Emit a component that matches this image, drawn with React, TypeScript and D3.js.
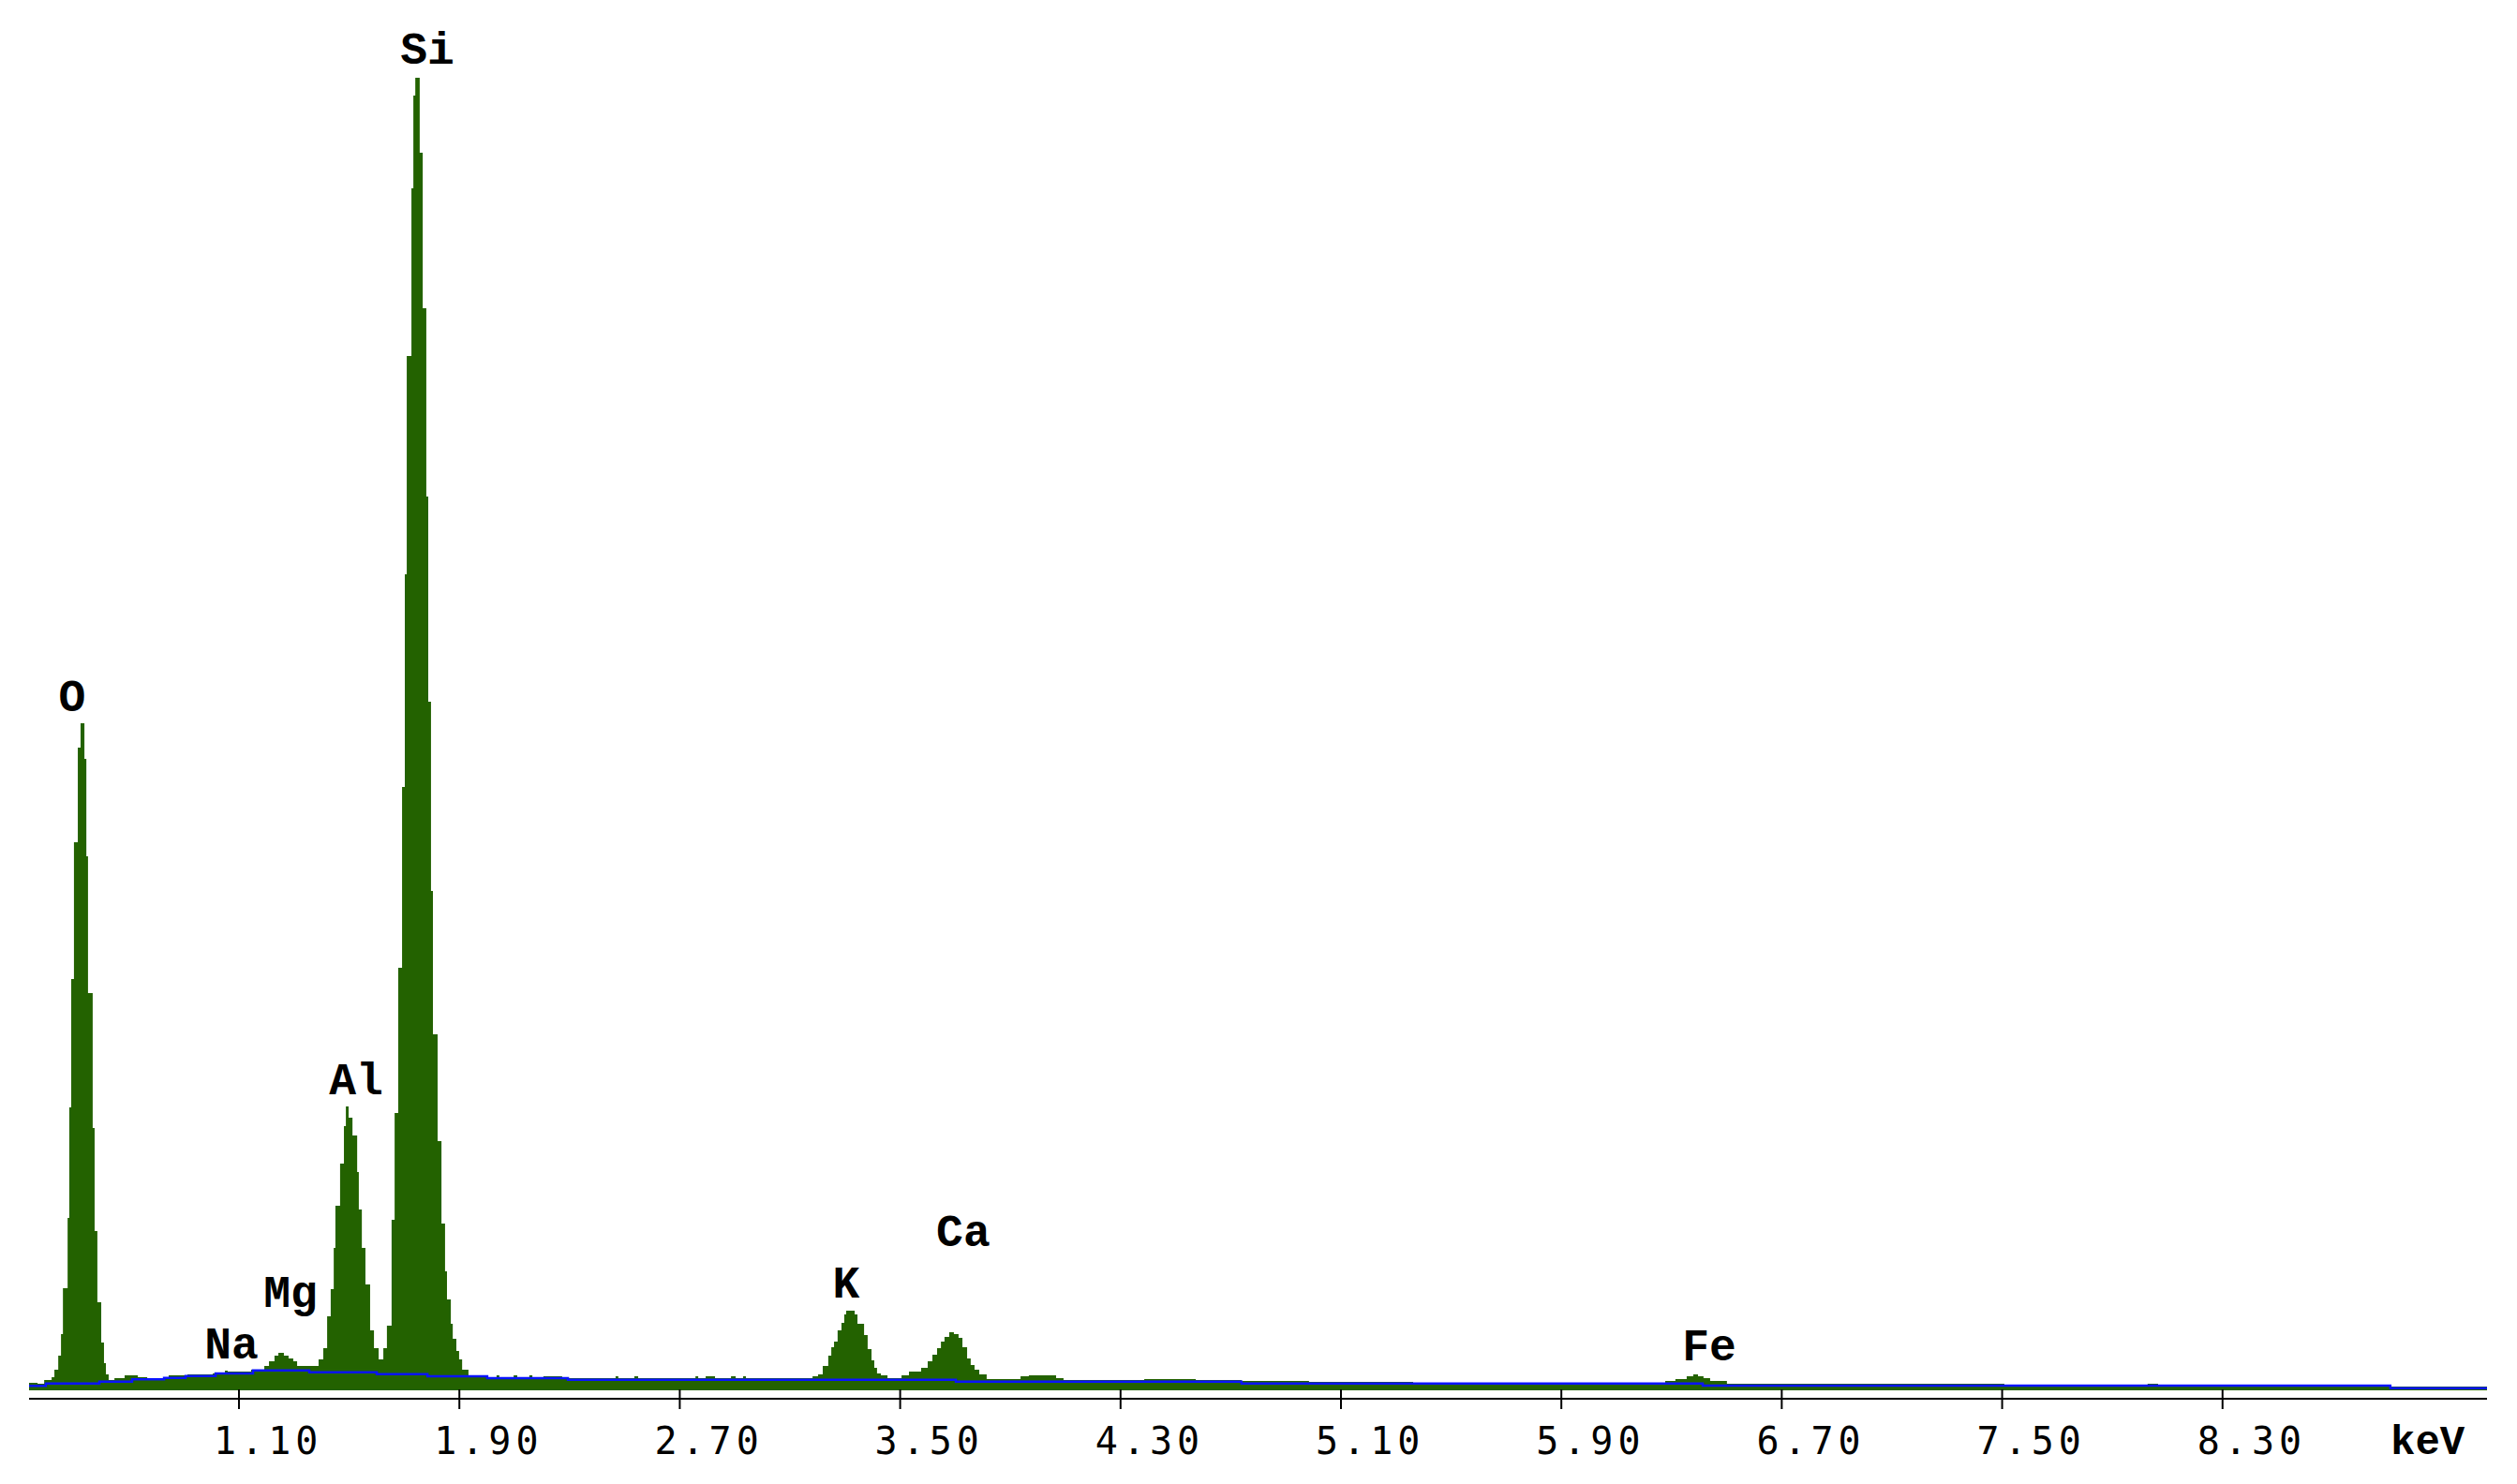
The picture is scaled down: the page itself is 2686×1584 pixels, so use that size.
import React from "react";
import * as d3 from "d3";

// EDS spectrum: channel start energy (keV) and counts (step histogram)
const spectrumEnergy = [
  0.338, 0.369, 0.393, 0.42, 0.43, 0.444, 0.454, 0.461, 0.478, 0.484, 0.491, 0.501, 0.515, 0.525, 0.539,
  0.546, 0.552, 0.569, 0.576, 0.586, 0.6, 0.61, 0.617, 0.627, 0.648, 0.685, 0.733, 0.767, 0.845, 0.913,
  1.005, 1.049, 1.059, 1.144, 1.192, 1.209, 1.229, 1.243, 1.263, 1.28, 1.297, 1.311, 1.389, 1.406, 1.42,
  1.433, 1.444, 1.45, 1.467, 1.481, 1.488, 1.498, 1.512, 1.529, 1.535, 1.546, 1.559, 1.576, 1.59, 1.607,
  1.624, 1.637, 1.654, 1.665, 1.678, 1.692, 1.702, 1.709, 1.726, 1.733, 1.74, 1.756, 1.767, 1.78, 1.787,
  1.797, 1.804, 1.821, 1.835, 1.848, 1.855, 1.869, 1.876, 1.889, 1.899, 1.91, 1.933, 2.001, 2.035, 2.045,
  2.097, 2.11, 2.154, 2.165, 2.205, 2.273, 2.467, 2.477, 2.535, 2.549, 2.757, 2.767, 2.794, 2.828, 2.886,
  2.903, 2.93, 2.94, 3.182, 3.202, 3.219, 3.239, 3.25, 3.26, 3.273, 3.287, 3.297, 3.304, 3.335, 3.345,
  3.369, 3.382, 3.396, 3.406, 3.416, 3.43, 3.454, 3.505, 3.532, 3.576, 3.6, 3.617, 3.634, 3.648, 3.661,
  3.678, 3.695, 3.712, 3.726, 3.743, 3.756, 3.77, 3.787, 3.814, 3.937, 3.967, 4.066, 4.093, 4.386, 4.573,
  4.739, 4.984, 5.362, 6.277, 6.314, 6.355, 6.379, 6.396, 6.416, 6.44, 6.501, 7.508, 8.028, 8.066, 8.909,
  9.26,
];
const spectrumCounts = [
  8, 7, 11, 14, 22, 37, 60, 109, 184, 302, 439, 585, 686, 712, 674,
  570, 424, 280, 170, 94, 51, 29, 17, 11, 13, 16, 14, 12, 16, 17,
  18, 21, 20, 22, 26, 31, 37, 40, 37, 34, 31, 26, 33, 45, 79,
  108, 152, 197, 242, 282, 303, 291, 272, 233, 193, 152, 113, 64, 45, 33,
  45, 69, 182, 296, 451, 644, 871, 1104, 1283, 1382, 1401, 1321, 1155, 954, 735,
  533, 380, 266, 178, 127, 97, 71, 55, 42, 33, 22, 16, 14, 16, 13,
  16, 13, 16, 13, 15, 13, 15, 13, 15, 13, 15, 13, 15, 13, 15,
  13, 15, 13, 15, 17, 26, 37, 46, 52, 64, 72, 81, 85, 81, 71,
  59, 44, 32, 24, 18, 16, 13, 16, 20, 24, 31, 38, 45, 52, 57,
  62, 60, 56, 46, 34, 27, 22, 17, 12, 15, 16, 13, 11, 12, 11,
  10, 9, 8, 10, 12, 15, 17, 15, 13, 10, 7, 5, 7, 5, 4,
  4,
];

// Fitted background (blue stepped line)
const backgroundEnergy = [
  0.338, 0.399, 0.593, 0.712, 0.828, 0.906, 1.015, 1.151, 1.355, 1.6, 1.784, 2.001, 2.294, 3.702, 4.739,
  6.413, 8.909, 9.26,
];
const backgroundCounts = [
  4.7, 7.3, 9.3, 11.7, 13.3, 15.3, 18, 21.3, 19.3, 17.3, 15, 13, 11.3, 9.3, 7.3,
  5, 2.3, 2.3,
];

// Element labels: name, label centre energy (keV), label baseline level (counts)
const elementNames = ["O", "Na", "Mg", "Al", "Si", "K", "Ca", "Fe"];
const elementLabelEnergy = [0.494, 1.073, 1.287, 1.525, 1.784, 3.304, 3.729, 6.437];
const elementLabelLevel = [725, 34, 89, 316, 1416, 99, 154, 32];

// Axis ticks
const tickValues = [1.1, 1.9, 2.7, 3.5, 4.3, 5.1, 5.9, 6.7, 7.5, 8.3];
const axisUnit = "keV";

const W = 2686;
const H = 1584;

export default function App() {
  const eMin = spectrumEnergy[0];
  const eMax = spectrumEnergy[spectrumEnergy.length - 1];
  const x = d3.scaleLinear().domain([eMin, eMax]).range([31, 2654]);
  const y = d3.scaleLinear().domain([0, 1440]).range([1484, 44]);

  const spectrum = spectrumEnergy.map((e, i) => ({ e, c: spectrumCounts[i] }));
  const background = backgroundEnergy.map((e, i) => ({ e, c: backgroundCounts[i] }));

  const area = d3
    .area<{ e: number; c: number }>()
    .x((d) => x(d.e))
    .y0(y(0))
    .y1((d) => y(d.c))
    .curve(d3.curveStepAfter);

  const line = d3
    .line<{ e: number; c: number }>()
    .x((d) => x(d.e))
    .y((d) => y(d.c))
    .curve(d3.curveStepAfter);

  const axisY = 1493;

  return (
    <svg
      width={W}
      height={H}
      viewBox={`0 0 ${W} ${H}`}
      style={{ position: "absolute", left: 0, top: 0, display: "block", background: "#ffffff" }}
    >
      <rect x={0} y={0} width={W} height={H} fill="#ffffff" />
      <path d={area(spectrum) || ""} fill="#236200" stroke="none" />
      <path d={line(background) || ""} fill="none" stroke="#0a14ff" strokeWidth={2.5} />

      <line x1={x(eMin)} x2={x(eMax)} y1={axisY} y2={axisY} stroke="#000" strokeWidth={2} />
      {tickValues.map((t) => (
        <g key={t}>
          <line x1={x(t)} x2={x(t)} y1={1483} y2={1504} stroke="#000" strokeWidth={2} />
          <text
            x={x(t) - 27}
            y={1552}
            fontFamily="'DejaVu Sans Mono', monospace"
            fontSize={40}
            letterSpacing={5}
            fill="#000"
          >
            {t.toFixed(2)}
          </text>
        </g>
      ))}
      <text
        x={2551}
        y={1552}
        fontFamily="'Liberation Mono', monospace"
        fontWeight="bold"
        fontSize={44}
        fill="#000"
      >
        {axisUnit}
      </text>

      {elementNames.map((n, i) => (
        <text
          key={n}
          x={x(elementLabelEnergy[i])}
          y={y(elementLabelLevel[i])}
          textAnchor="middle"
          fontFamily="'Liberation Mono', monospace"
          fontWeight="bold"
          fontSize={48}
          fill="#000"
        >
          {n}
        </text>
      ))}
    </svg>
  );
}
